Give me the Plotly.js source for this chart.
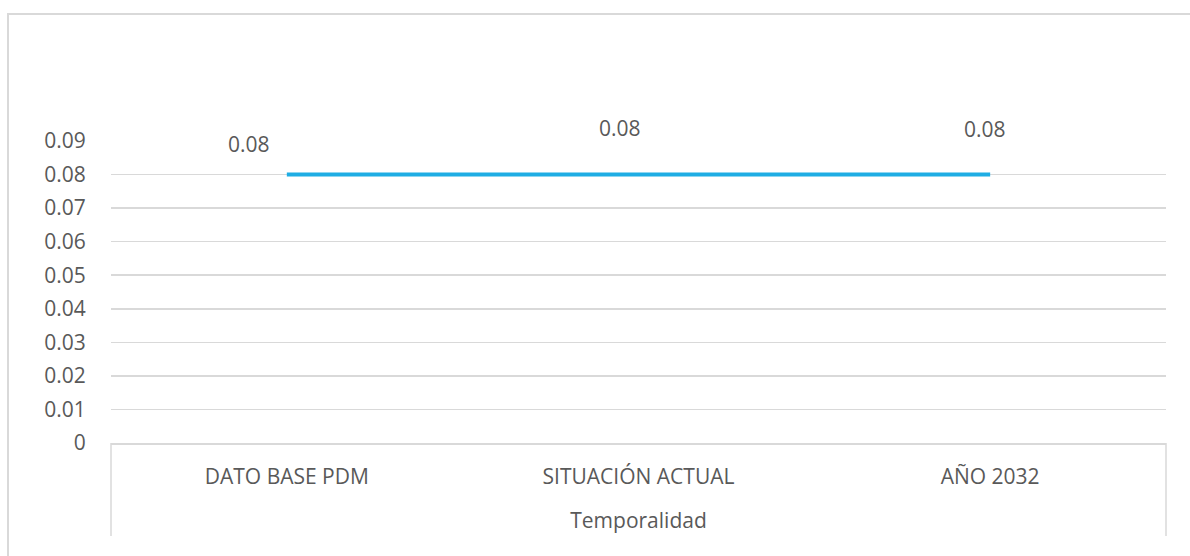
<!DOCTYPE html>
<html>
<head>
<meta charset="utf-8">
<script src="https://cdn.plot.ly/plotly-3.0.1.min.js"></script>
<style>
  html, body { margin: 0; padding: 0; background: #ffffff; }
  #wrap { position: relative; width: 1190px; height: 556px; overflow: hidden; }
  #chart { position: absolute; left: 0; top: 0; width: 1190px; height: 556px; }
  #frame { position: absolute; left: 7px; top: 13px; width: 1300px; height: 700px;
           border-left: 2px solid #d9d9d9; border-top: 2px solid #d9d9d9; pointer-events: none; }
</style>
</head>
<body>
<div id="wrap">
  <div id="chart"></div>
  <div id="frame"></div>
</div>
<script>
const categories = ["DATO BASE PDM", "SITUACIÓN ACTUAL", "AÑO 2032"];
const values = [0.08, 0.08, 0.08];
const labelTexts = ["0.08", "0.08", "0.08"];
const axisTitle = "Temporalidad";
const yTicks = [0, 0.01, 0.02, 0.03, 0.04, 0.05, 0.06, 0.07, 0.08, 0.09];
const yTickLabels = ["0", "0.01", "0.02", "0.03", "0.04", "0.05", "0.06", "0.07", "0.08", "0.09"];

const FONT = "Open Sans, sans-serif";
const TXT = "#595959";
const GRID = "#d9d9d9";
const FS = 21;

// manual label offsets (as in the reference)
const labelDx = [-38, -19, -5];
const labelDy = [31, 47, 46];

const trace = {
  type: "scatter",
  mode: "lines",
  x: categories,
  y: values,
  line: { color: "#1FADE4", width: 4 },
  hoverinfo: "none"
};

const annotations = categories.map((c, i) => ({
  x: c, y: values[i], xref: "x", yref: "y",
  text: labelTexts[i], showarrow: false,
  xshift: labelDx[i], yshift: labelDy[i],
  font: { family: FONT, size: FS, color: TXT }
}));

const shapes = [
  { type: "line", xref: "paper", yref: "paper", x0: 0, x1: 0, y0: 0, y1: -93/302,
    line: { color: GRID, width: 1.5 } },
  { type: "line", xref: "paper", yref: "paper", x0: 1, x1: 1, y0: 0, y1: -93/302,
    line: { color: GRID, width: 1.5 } }
];

const layout = {
  width: 1190, height: 556,
  margin: { l: 111, r: 24, t: 141, b: 113 },
  paper_bgcolor: "rgba(0,0,0,0)",
  plot_bgcolor: "rgba(0,0,0,0)",
  showlegend: false,
  font: { family: FONT, size: FS, color: TXT },
  xaxis: {
    type: "category",
    range: [-0.5, 2.5],
    showgrid: false,
    zeroline: false,
    showline: true, linecolor: GRID, linewidth: 1.5,
    ticks: "outside", ticklen: 14, tickcolor: "rgba(0,0,0,0)",
    tickfont: { family: FONT, size: FS, color: TXT },
    title: { text: axisTitle, font: { family: FONT, size: FS, color: TXT }, standoff: 24 },
    fixedrange: true
  },
  yaxis: {
    range: [0, 0.09],
    tickvals: yTicks,
    ticktext: yTickLabels,
    showgrid: true, gridcolor: GRID, gridwidth: 1.5,
    zeroline: false,
    showline: false,
    ticks: "outside", ticklen: 20, tickcolor: "rgba(0,0,0,0)",
    tickfont: { family: FONT, size: FS, color: TXT },
    fixedrange: true
  },
  annotations: annotations,
  shapes: shapes
};

Plotly.newPlot("chart", [trace], layout, { displayModeBar: false, staticPlot: true });
</script>
</body>
</html>
